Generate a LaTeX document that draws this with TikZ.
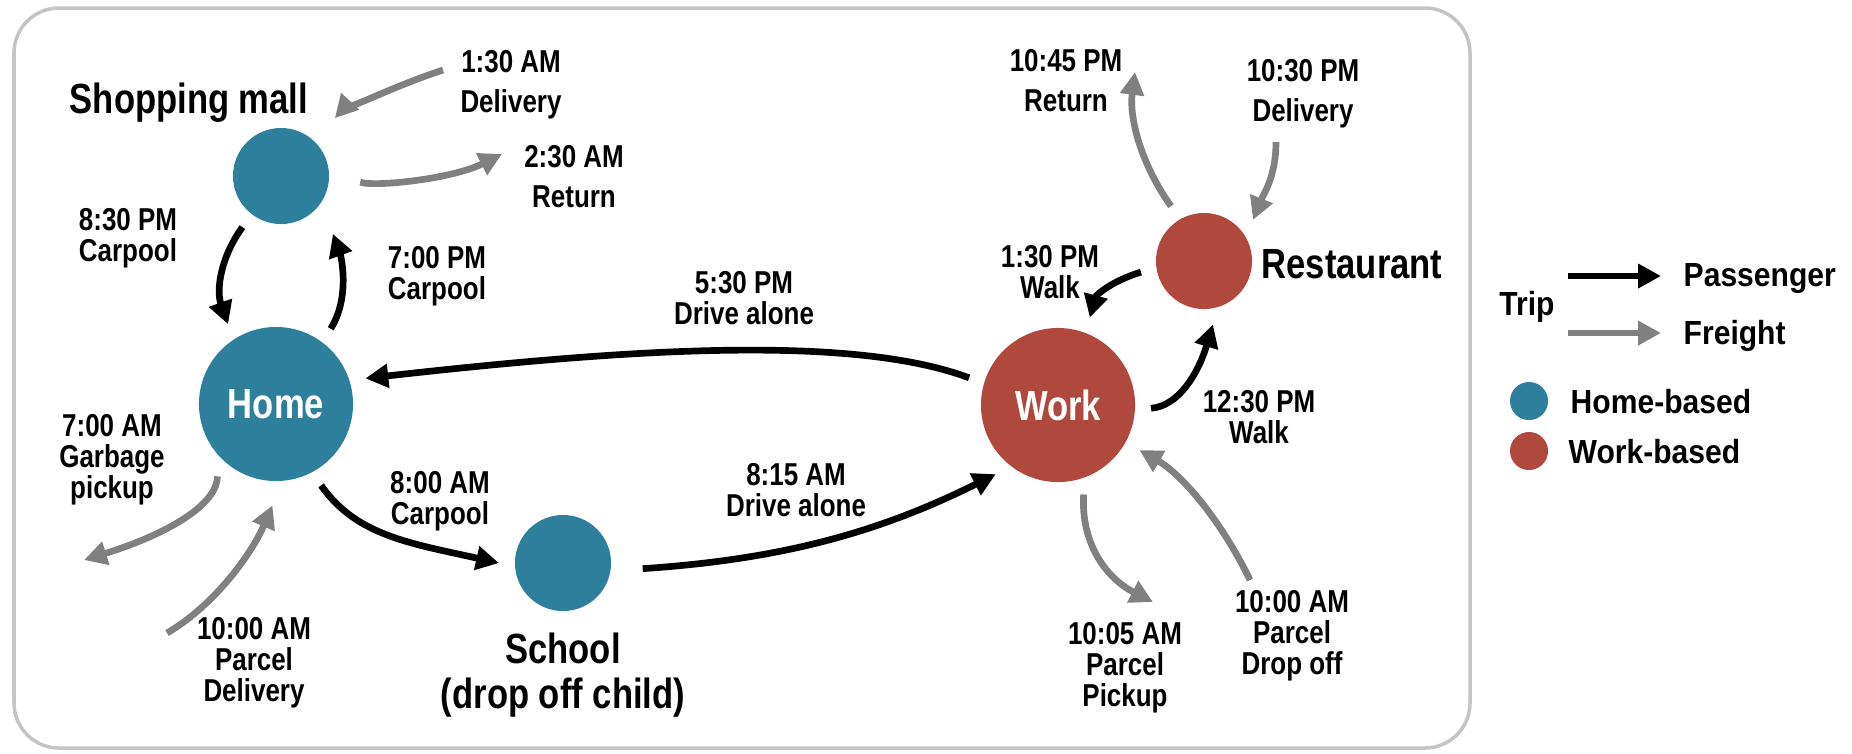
\documentclass[tikz,border=0pt]{standalone}
\usepackage{fontspec}
\setmainfont{Liberation Sans}[FakeStretch=0.82]
\newfontfamily\legendfont{Liberation Sans}[FakeStretch=0.9]
\usetikzlibrary{arrows.meta}
\definecolor{hometeal}{HTML}{2E7F9B}
\definecolor{workred}{HTML}{B0493D}
\definecolor{freightgray}{HTML}{808080}
\definecolor{framegray}{HTML}{C4C4C4}

\begin{document}
\begin{tikzpicture}[x=0.01cm, y=-0.01cm,
  place/.style={circle, inner sep=0pt, outer sep=0.16cm, text=white, font=\fontsize{12}{13}\selectfont\bfseries},
  homeplace/.style={place, fill=hometeal},
  workplace/.style={place, fill=workred},
  trip/.style={line width=1.9pt, -{Triangle[length=6.5pt, width=6.6pt]}},
  freight/.style={trip, draw=freightgray},
  lbl/.style={align=center, anchor=base, inner sep=0pt, font=\fontsize{9}{8.7}\selectfont\bfseries},
  lblwide/.style={lbl, font=\fontsize{9}{11.1}\selectfont\bfseries},
  bigname/.style={align=center, anchor=base, inner sep=0pt, font=\fontsize{12}{12.8}\selectfont\bfseries},
  legtext/.style={anchor=base west, inner sep=0pt, font=\legendfont\fontsize{9.5}{11}\selectfont\bfseries}]
\useasboundingbox (0,0) rectangle (1852,753);
\draw[framegray, line width=1pt, rounded corners=0.45cm] (14,8) rectangle (1470,748);

% places
\node[homeplace, minimum size=0.96cm] (mall) at (281,176) {};
\node[homeplace, minimum size=1.54cm] (home) at (276,404) {Home};
\node[homeplace, minimum size=0.96cm] (school) at (563,563) {};
\node[workplace, minimum size=1.54cm] (work) at (1058,405) {Work};
\node[workplace, minimum size=0.96cm] (rest) at (1204,261) {};
\node[bigname] (mallname) at (189,113) {Shopping mall};
\node[bigname] (restname) at (1352,278) {Restaurant};
\node[bigname] (schoolname) at (563,708) {School\\(drop off child)};

% passenger trips
\draw[trip] (mall.233) .. controls +(-22,30) and +(-12,-34) .. (home.121);
\draw[trip, shorten >=0.15cm] (home.54) .. controls +(20,-32) and +(13,36) .. (mall.-43);
\draw[trip] (work.163) .. controls +(-120,-45) and +(250,-28) .. (home.16);
\draw[trip] (home.-61) .. controls +(35,50) and +(-90,-20) .. (school.180);
\draw[trip, shorten <=0.16cm] (school.-6) .. controls +(150,-10) and +(-120,60) .. (work.-132);
\draw[trip] (rest.190) .. controls +(-30,9) and +(6,-22) .. (work.70);
\draw[trip] (work.-2) .. controls +(27,-2) and +(-15,50) .. (rest.-82);

% freight trips
\coordinate (malldlv) at (443,70);
\coordinate (mallret) at (502,154);
\coordinate (garbage) at (84,560);
\coordinate (homedlv) at (167,633);
\coordinate (restret) at (1135,72);
\coordinate (restdlv) at (1276,142);
\coordinate (pickup) at (1153,602);
\coordinate (dropoff) at (1250,580);
\draw[freight, shorten >=0.15cm] (malldlv) .. controls +(-61,20) and +(11,-12) .. (mall.47);
\draw[freight, shorten <=0.16cm] (mall.-1) .. controls +(30,10) and +(-50,25) .. (mallret);
\draw[freight] (home.231) .. controls +(0,27) and +(87,-27) .. (garbage);
\draw[freight, shorten >=0.09cm] (homedlv) .. controls +(48,-28) and +(-24,56) .. (home.270);
\draw[freight] (rest.121) .. controls +(-30,-42) and +(-6,46) .. (restret);
\draw[freight] (restdlv) .. controls +(0,35) and +(10,-25) .. (rest.40);
\draw[freight] (work.-74) .. controls +(-3,46) and +(-49,-25) .. (pickup);
\draw[freight] (dropoff) .. controls +(-29,-60) and +(42,24) .. (work.-29);

% times (placed at the baseline of the last line)
\node[lblwide] (lmalldlv) at (511,112) {1:30 AM\\Delivery};
\node[lblwide] (lmallret) at (574,207) {2:30 AM\\Return};
\node[lbl] (lmallhome) at (128,261) {8:30 PM\\Carpool};
\node[lbl] (lhomemall) at (437,299) {7:00 PM\\Carpool};
\node[lbl] (lworkhome) at (744,324) {5:30 PM\\Drive alone};
\node[lbl] (lhomeschool) at (440,524) {8:00 AM\\Carpool};
\node[lbl] (lschoolwork) at (796,516) {8:15 AM\\Drive alone};
\node[lbl] (lgarbage) at (112,498) {7:00 AM\\Garbage\\pickup};
\node[lbl] (lhomedlv) at (254,701) {10:00 AM\\Parcel\\Delivery};
\node[lblwide] (lrestret) at (1066,111) {10:45 PM\\Return};
\node[lblwide] (lrestdlv) at (1303,121) {10:30 PM\\Delivery};
\node[lbl] (lrestwork) at (1050,298) {1:30 PM\\Walk};
\node[lbl] (lworkrest) at (1259,443) {12:30 PM\\Walk};
\node[lbl] (lpickup) at (1125,706) {10:05 AM\\Parcel\\Pickup};
\node[lbl] (ldropoff) at (1292,674) {10:00 AM\\Parcel\\Drop off};

% legend
\node[legtext, anchor=base] (legtrip) at (1527,315) {Trip};
\coordinate (legpasstart) at (1568,276);
\coordinate (legfrtstart) at (1568,333);
\node[legtext] (legpas) at (1683,286) {Passenger};
\node[legtext] (legfrt) at (1683,344) {Freight};
\draw[trip, shorten >=0.22cm] (legpasstart) -- (legpasstart -| legpas.west);
\draw[freight, shorten >=0.22cm] (legfrtstart) -- (legfrtstart -| legfrt.west);
\node[homeplace, minimum size=0.38cm, outer sep=0pt] (leghome) at (1529,401) {};
\node[workplace, minimum size=0.38cm, outer sep=0pt] (legwork) at (1529,451) {};
\node[legtext] (leghometxt) at (1570,413) {Home-based};
\node[legtext] (legworktxt) at (1568,463) {Work-based};
\end{tikzpicture}
\end{document}
